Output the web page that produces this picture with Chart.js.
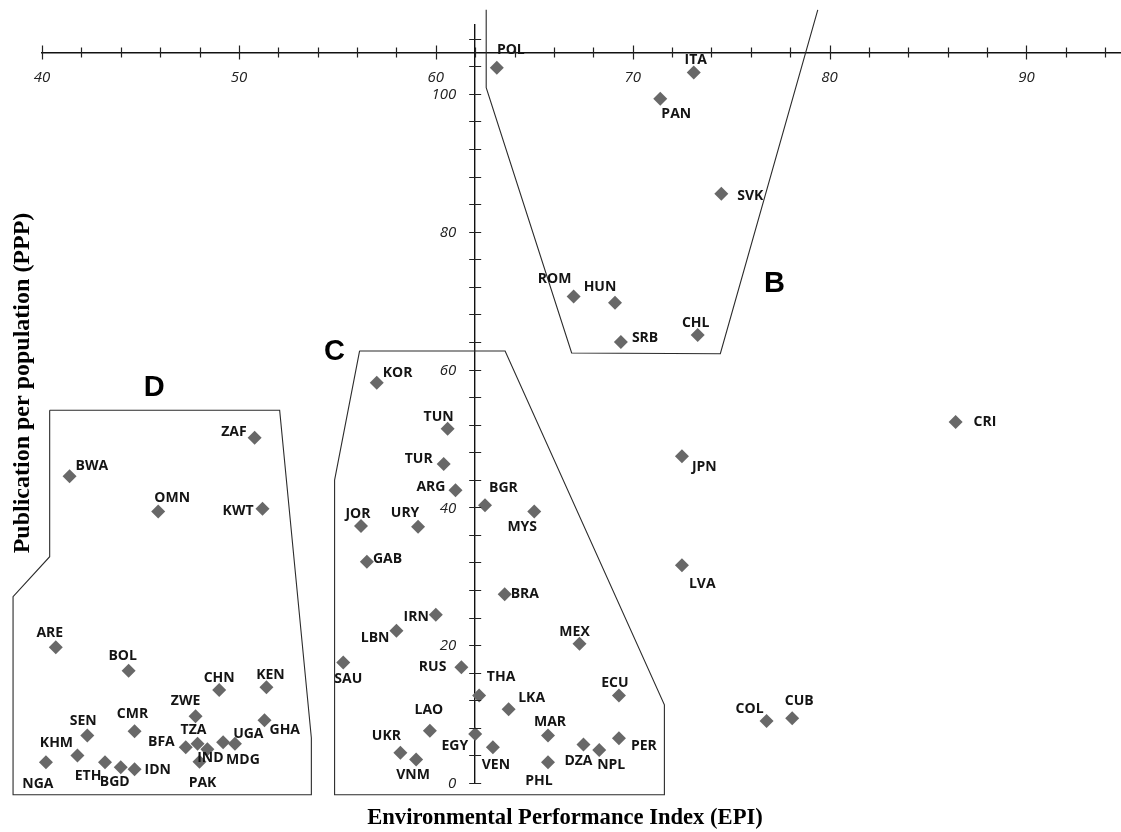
<!DOCTYPE html>
<html lang="en">
<head>
<meta charset="UTF-8">
<title>EPI vs PPP</title>
<script src="https://cdn.jsdelivr.net/npm/chart.js"></script>
<style>
  html, body { margin: 0; padding: 0; background: #fff; }
</style>
</head>
<body>
<canvas id="epiChart" width="1121" height="832"></canvas>
<script>
// country codes, EPI (x) and publications per population (y)
const countries = ['POL', 'ITA', 'PAN', 'SVK', 'ROM', 'HUN', 'SRB', 'CHL',
  'KOR', 'TUN', 'TUR', 'ARG', 'BGR', 'MYS', 'JOR', 'URY', 'GAB', 'BRA', 'IRN', 'LBN',
  'MEX', 'SAU', 'RUS', 'THA', 'ECU', 'LKA', 'LAO', 'MAR', 'EGY', 'PER', 'DZA', 'NPL',
  'VEN', 'UKR', 'VNM', 'PHL',
  'ZAF', 'BWA', 'OMN', 'KWT', 'ARE', 'BOL', 'CHN', 'KEN', 'ZWE', 'GHA', 'CMR', 'SEN',
  'TZA', 'BFA', 'IND', 'UGA', 'MDG', 'PAK', 'KHM', 'NGA', 'ETH', 'BGD', 'IDN',
  'CRI', 'JPN', 'LVA', 'COL', 'CUB'];
const epi = [63.1, 73.1, 71.4, 74.5, 67.0, 69.1, 69.4, 73.3,
  57.0, 60.6, 60.4, 61.0, 62.5, 65.0, 56.2, 59.1, 56.5, 63.5, 60.0, 58.0,
  67.3, 55.3, 61.3, 62.2, 69.3, 63.7, 59.7, 65.7, 62.0, 69.3, 67.5, 68.3,
  62.9, 58.2, 59.0, 65.7,
  50.8, 41.4, 45.9, 51.2, 40.7, 44.4, 49.0, 51.4, 47.8, 51.3, 44.7, 42.3,
  47.9, 47.3, 48.4, 49.2, 49.8, 48.0, 41.8, 40.2, 43.2, 44.0, 44.7,
  86.4, 72.5, 72.5, 76.8, 78.1];
const ppp = [103.8, 103.1, 99.3, 85.5, 70.6, 69.7, 64.0, 65.0,
  58.1, 51.4, 46.3, 42.5, 40.3, 39.4, 37.3, 37.2, 32.1, 27.4, 24.4, 22.1,
  20.2, 17.5, 16.8, 12.7, 12.7, 10.7, 7.6, 6.9, 7.1, 6.5, 5.6, 4.8,
  5.2, 4.4, 3.4, 3.0,
  50.1, 44.5, 39.4, 39.8, 19.7, 16.3, 13.5, 13.9, 9.7, 9.1, 7.5, 6.9,
  5.7, 5.2, 4.9, 5.9, 5.7, 3.1, 4.0, 3.0, 3.0, 2.3, 2.0,
  52.4, 47.4, 31.6, 9.0, 9.4];

const xTicks = [40, 42, 44, 46, 48, 50, 52, 54, 56, 58, 60, 62, 64, 66, 68, 70,
  72, 74, 76, 78, 80, 82, 84, 86, 88, 90, 92, 94];
const xTickLabels = [40, 50, 60, 70, 80, 90];
const yTicks = [0, 4, 8, 12, 16, 20, 24, 28, 32, 36, 40, 44, 48, 52, 56, 60, 64,
  68, 72, 76, 80, 84, 88, 92, 96, 100, 104, 108];
const yTickLabels = [0, 20, 40, 60, 80, 100];

// the axes cross at these values
const xAxisAt = 106;
const yAxisAt = 62;

// outlines of the country groups
const groupB = [{x: 62.56, y: 112.2}, {x: 62.56, y: 100.9}, {x: 66.9, y: 62.4},
  {x: 74.45, y: 62.3}, {x: 79.4, y: 112.2}];
const groupC = [{x: 56.13, y: 62.7}, {x: 63.52, y: 62.7}, {x: 71.61, y: 11.35},
  {x: 71.61, y: -1.7}, {x: 54.86, y: -1.7}, {x: 54.86, y: 43.96}, {x: 56.13, y: 62.7}];
const groupD = [{x: 40.39, y: 54.1}, {x: 52.07, y: 54.1}, {x: 53.68, y: 6.52},
  {x: 53.68, y: -1.7}, {x: 38.53, y: -1.7}, {x: 38.53, y: 27.04}, {x: 40.39, y: 32.84},
  {x: 40.39, y: 54.1}];
const groupNames = ['B', 'C', 'D'];
const groupNameX = [77.2, 54.85, 45.7];
const groupNameY = [72.4, 62.55, 57.3];

// where each code sits next to its marker: [align, dx, dy]
const labelPlace = {
  POL: ['center', 14, -18], ITA: ['center', 2, -13], PAN: ['center', 16, 15],
  SVK: ['left', 16, 2], ROM: ['center', -19, -17], HUN: ['center', -15, -16],
  SRB: ['left', 11, -4], CHL: ['center', -2, -12],
  KOR: ['left', 6, -10], TUN: ['center', -9, -12], TUR: ['right', -11, -5],
  ARG: ['right', -10, -3], BGR: ['left', 4, -17], MYS: ['center', -12, 16],
  JOR: ['center', -3, -12], URY: ['center', -13, -14], GAB: ['left', 6, -3],
  BRA: ['left', 6, 0], IRN: ['right', -7, 2], LBN: ['right', -7, 7],
  MEX: ['center', -5, -12], SAU: ['center', 5, 17], RUS: ['right', -15, 0],
  THA: ['center', 22, -18], ECU: ['center', -4, -12], LKA: ['center', 23, -11],
  LAO: ['center', -1, -21], MAR: ['center', 2, -13], EGY: ['right', -7, 12],
  PER: ['left', 12, 8], DZA: ['center', -5, 17], NPL: ['center', 12, 15],
  VEN: ['center', 3, 18], UKR: ['center', -14, -17], VNM: ['center', -3, 15],
  PHL: ['center', -9, 19],
  ZAF: ['right', -8, -6], BWA: ['left', 6, -10], OMN: ['center', 14, -13],
  KWT: ['right', -9, 2], ARE: ['center', -6, -14], BOL: ['center', -6, -15],
  CHN: ['center', 0, -12], KEN: ['center', 4, -12], ZWE: ['center', -10, -15],
  GHA: ['left', 5, 10], CMR: ['center', -2, -17], SEN: ['center', -4, -14],
  TZA: ['center', -4, -14], BFA: ['right', -11, -5], IND: ['center', 3, 9],
  UGA: ['left', 10, -8], MDG: ['center', 8, 16], PAK: ['center', 3, 21],
  KHM: ['center', -21, -12], NGA: ['center', -8, 22], ETH: ['center', -17, 14],
  BGD: ['center', -6, 15], IDN: ['left', 10, 1],
  CRI: ['left', 18, 0], JPN: ['left', 10, 11], LVA: ['left', 7, 19],
  COL: ['center', -17, -12], CUB: ['center', 7, -17]
};

function outline(points) {
  return {
    data: points,
    showLine: true,
    borderColor: '#2b2b2b',
    borderWidth: 1.1,
    pointRadius: 0,
    fill: false,
    clip: false,
    order: 1
  };
}

// tick marks that cross the axis lines, and their labels
const crossTicks = {
  id: 'crossTicks',
  afterDraw(chart) {
    const {ctx, scales: {x, y}} = chart;
    const ax = x.getPixelForValue(yAxisAt);
    const ay = y.getPixelForValue(xAxisAt);
    ctx.save();
    ctx.strokeStyle = '#222';
    ctx.lineWidth = 1.2;
    ctx.beginPath();
    x.ticks.forEach(t => {
      const px = Math.round(x.getPixelForValue(t.value)) + 0.5;
      const len = xTickLabels.includes(t.value) ? 7 : 5;
      ctx.moveTo(px, ay - len);
      ctx.lineTo(px, ay + len);
    });
    y.ticks.forEach(t => {
      const py = Math.round(y.getPixelForValue(t.value)) + 0.5;
      ctx.moveTo(ax - 6, py);
      ctx.lineTo(ax + 6, py);
    });
    ctx.stroke();

    ctx.fillStyle = '#222';
    ctx.font = 'italic 15px "Open Sans"';
    ctx.textBaseline = 'middle';
    ctx.textAlign = 'center';
    xTickLabels.forEach(v => ctx.fillText(String(v), x.getPixelForValue(v), ay + 25));
    ctx.textAlign = 'right';
    yTickLabels.forEach(v => ctx.fillText(String(v), ax - 19, y.getPixelForValue(v) + 1));
    ctx.restore();
  }
};

// country codes, group letters and axis titles
const chartText = {
  id: 'chartText',
  afterDatasetsDraw(chart) {
    const {ctx, scales: {x, y}} = chart;
    ctx.save();
    ctx.fillStyle = '#141414';
    ctx.textBaseline = 'middle';
    ctx.font = 'bold 14px "Open Sans"';
    chart.getDatasetMeta(0).data.forEach((pt, i) => {
      const [align, dx, dy] = labelPlace[countries[i]];
      ctx.textAlign = align;
      ctx.fillText(countries[i], pt.x + dx, pt.y + dy);
    });

    ctx.fillStyle = '#000';
    ctx.textAlign = 'center';
    ctx.font = 'bold 29px "Liberation Sans"';
    groupNames.forEach((g, i) => {
      ctx.fillText(g, x.getPixelForValue(groupNameX[i]), y.getPixelForValue(groupNameY[i]));
    });

    ctx.font = 'bold 22.6px "Liberation Serif"';
    ctx.fillText('Environmental Performance Index (EPI)', 565, 818);
    ctx.font = 'bold 24px "Liberation Serif"';
    ctx.translate(23, 383);
    ctx.rotate(-Math.PI / 2);
    ctx.fillText('Publication per population (PPP)', 0, 0);
    ctx.restore();
  }
};

const ctx = document.getElementById('epiChart').getContext('2d');
const epiChart = new Chart(ctx, {
  type: 'scatter',
  data: {
    datasets: [
      {
        label: 'Countries',
        data: countries.map((c, i) => ({x: epi[i], y: ppp[i]})),
        pointStyle: 'rectRot',
        pointRadius: 7,
        backgroundColor: '#686868',
        borderWidth: 0,
        clip: false,
        order: 0
      },
      outline(groupB),
      outline(groupC),
      outline(groupD)
    ]
  },
  options: {
    responsive: false,
    animation: false,
    layout: { autoPadding: false, padding: { left: 42, right: 0, top: 25, bottom: 49 } },
    plugins: {
      legend: { display: false },
      tooltip: { enabled: false }
    },
    scales: {
      x: {
        type: 'linear',
        min: 40,
        max: 94.8,
        position: { y: xAxisAt },
        afterBuildTicks: s => { s.ticks = xTicks.map(v => ({value: v})); },
        grid: { display: false, drawTicks: false, tickLength: 0 },
        border: { color: '#111', width: 1.4 },
        ticks: { display: false }
      },
      y: {
        type: 'linear',
        min: 0,
        max: 110,
        position: { x: yAxisAt },
        afterBuildTicks: s => { s.ticks = yTicks.map(v => ({value: v})); },
        grid: { display: false, drawTicks: false, tickLength: 0 },
        border: { color: '#111', width: 1.4 },
        ticks: { display: false }
      }
    }
  },
  plugins: [crossTicks, chartText]
});
</script>
</body>
</html>
